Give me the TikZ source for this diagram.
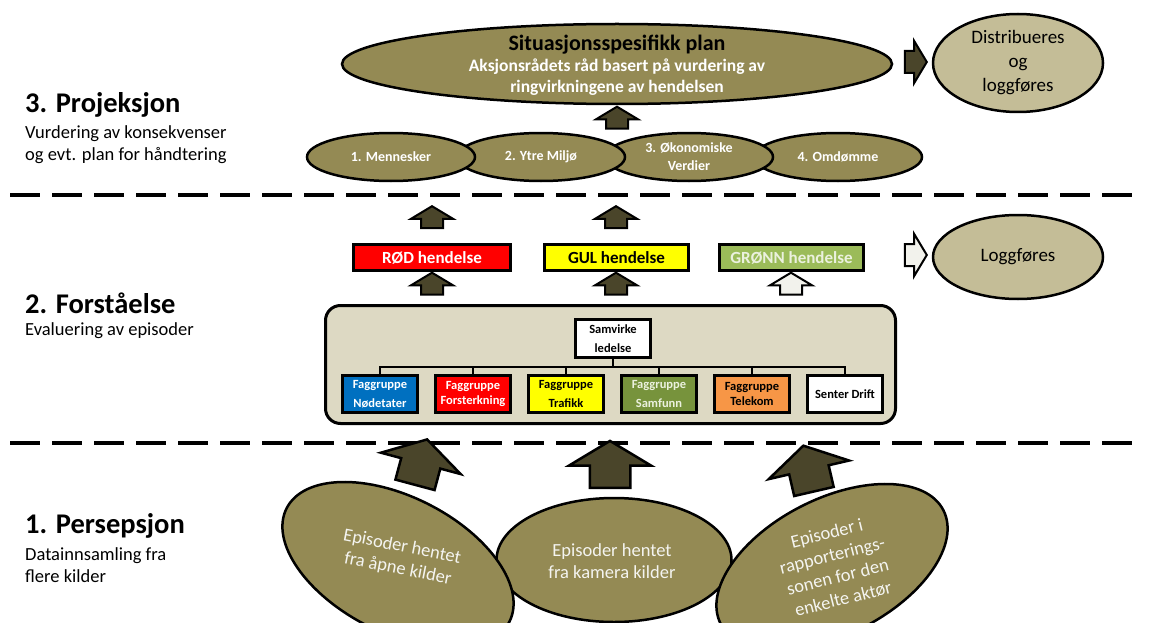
\documentclass[tikz,border=0pt]{standalone}
\usepackage{fontspec}
\setmainfont{Carlito}
\usetikzlibrary{positioning,shapes.geometric,shapes.arrows}

\definecolor{olivefill}{RGB}{148,138,84}
\definecolor{khakifill}{RGB}{196,189,151}
\definecolor{panelfill}{RGB}{221,217,195}
\definecolor{arrowdark}{RGB}{74,69,42}
\definecolor{arrowlight}{RGB}{242,242,236}
\definecolor{fgblue}{RGB}{0,112,192}
\definecolor{fgred}{RGB}{255,0,0}
\definecolor{fgyellow}{RGB}{255,255,0}
\definecolor{fggreen}{RGB}{119,147,60}
\definecolor{fgorange}{RGB}{247,150,70}
\definecolor{greenbox}{RGB}{155,187,89}
\definecolor{paletext}{RGB}{235,241,222}
\definecolor{offwhite}{RGB}{244,244,240}

\begin{document}
\begin{tikzpicture}[
  x=1pt, y=-1pt,
  phasetitle/.style={anchor=base west, inner sep=0pt, font=\fontsize{28.5}{32}\selectfont\bfseries},
  phasedesc/.style={anchor=base west, inner sep=0pt, align=left, font=\fontsize{18.5}{22}\selectfont},
  sepline/.style={line width=4pt, dash pattern=on 30pt off 12pt},
  olivell/.style={ellipse, draw, line width=2.5pt, fill=olivefill, inner sep=0pt},
  smallell/.style={olivell, minimum width=168pt, minimum height=48pt, text=white, align=center, font=\fontsize{14}{18}\selectfont\bfseries},
  endell/.style={ellipse, draw, line width=2.5pt, fill=khakifill, inner sep=0pt, minimum width=170pt, align=center, font=\fontsize{19}{24}\selectfont},
  eventbox/.style={draw, line width=3pt, minimum height=26pt, inner sep=0pt, font=\fontsize{17}{20}\selectfont\bfseries},
  groupbox/.style={draw, line width=3pt, minimum width=75pt, minimum height=37pt, inner sep=0pt, align=center},
  eptext/.style={align=center, inner sep=0pt, text=offwhite, font=\fontsize{18.5}{22.5}\selectfont},
  tree/.style={line width=2pt},
  smallarrow/.style={single arrow, draw, line width=2pt, fill=arrowdark, inner xsep=0pt, inner ysep=10pt, single arrow tip angle=118, minimum height=22pt, minimum width=40pt, single arrow head extend=10pt},
  bigarrow/.style={single arrow, draw, line width=2.5pt, fill=arrowdark, inner xsep=0pt, inner ysep=19pt, single arrow tip angle=118, minimum height=47pt, minimum width=80pt, single arrow head extend=21pt}
]
\useasboundingbox (0,0) rectangle (1150,623);

% Layer separators
\coordinate (s1l) at (10,195);
\coordinate (s1r) at (1142,195);
\coordinate (s2l) at (10,443);
\coordinate (s2r) at (1142,443);
\draw[sepline] (s1l) -- (s1r);
\draw[sepline] (s2l) -- (s2r);

% Phase labels
\node[phasetitle] (p3) at (25,113) {3. Projeksjon};
\node[phasedesc] (p3d) at (25,160) {Vurdering av konsekvenser\\og evt. plan for håndtering};
\node[phasetitle] (p2) at (25,313) {2. Forståelse};
\node[phasedesc] (p2d) at (25,335) {Evaluering av episoder};
\node[phasetitle] (p1) at (25,533) {1. Persepsjon};
\node[phasedesc] (p1d) at (25,582) {Datainnsamling fra\\flere kilder};

% 3. Projection
\node[smallell] (omd) at (838,157) {4. Omdømme};
\node[smallell] (oko) at (689,157) {3. Økonomiske\\Verdier};
\node[smallell] (ytre) at (541,157) {2. Ytre Miljø};
\node[smallell] (menn) at (391,157) {1. Mennesker};
\node[smallarrow, rotate=90] (aplan) at (617,121) {};

\node[olivell, minimum width=550pt, minimum height=80pt] (plan) at (617,64) {};
\node[align=center, inner sep=0pt, text=white, font=\fontsize{17.5}{21}\selectfont\bfseries] (plantxt) at (617,65)
  {{\color{black}\fontsize{22}{24}\selectfont Situasjonsspesifikk plan}\\Aksjonsrådets råd basert på vurdering av\\ringvirkningene av hendelsen};

\node[smallarrow] (adist) at (912.5,62) {};
\node[endell, minimum height=98pt] (dist) at (1018,63) {Distribueres\\og\\loggføres};

% 2. Understanding
\node[smallarrow, rotate=90] (arod) at (432,220.5) {};
\node[smallarrow, rotate=90] (agul) at (616,220.5) {};

\node[eventbox, fill=fgred, text=white, minimum width=157pt] (rod) at (432,257.5) {RØD hendelse};
\node[eventbox, fill=fgyellow, minimum width=144pt] (gul) at (616.5,257.5) {GUL hendelse};
\node[eventbox, fill=greenbox, text=paletext, minimum width=144pt] (gronn) at (791.5,257.5) {GRØNN hendelse};

\node[smallarrow, fill=arrowlight] (alogg) at (912.5,255) {};
\node[endell, minimum height=84pt] (logg) at (1018,257) {Loggføres};

\node[smallarrow, rotate=90] (brod) at (432,287) {};
\node[smallarrow, rotate=90] (bgul) at (616,287) {};
\node[smallarrow, rotate=90, fill=arrowlight] (bgronn) at (791,287) {};

\node[draw, line width=3pt, rounded corners=15pt, fill=panelfill, minimum width=570pt, minimum height=118pt] (panel) at (610.5,364.5) {};

\node[groupbox, fill=white, minimum height=38pt, font=\fontsize{12.5}{19}\selectfont\bfseries] (sam) at (613,338.5) {Samvirke\\ledelse};

\node[groupbox, fill=fgblue, text=white, font=\fontsize{12.5}{19}\selectfont\bfseries] (fg1) at (380,394) {Faggruppe\\Nødetater};
\node[groupbox, fill=fgred, text=white, font=\fontsize{12.5}{15}\selectfont\bfseries] (fg2) at (473,394) {Faggruppe\\Forsterkning};
\node[groupbox, fill=fgyellow, font=\fontsize{12.5}{19}\selectfont\bfseries] (fg3) at (566,394) {Faggruppe\\Trafikk};
\node[groupbox, fill=fggreen, text=paletext, font=\fontsize{12.5}{19}\selectfont\bfseries] (fg4) at (659,394) {Faggruppe\\Samfunn};
\node[groupbox, fill=fgorange, font=\fontsize{12.5}{15}\selectfont\bfseries] (fg5) at (752,394) {Faggruppe\\Telekom};
\node[groupbox, fill=white, font=\fontsize{12.5}{15}\selectfont\bfseries] (fg6) at (845,394) {Senter Drift};

\draw[tree] (sam.south) -- ++(0,8) -| (fg1.north);
\draw[tree] (sam.south) -- ++(0,8) -| (fg2.north);
\draw[tree] (sam.south) -- ++(0,8) -| (fg3.north);
\draw[tree] (sam.south) -- ++(0,8) -| (fg4.north);
\draw[tree] (sam.south) -- ++(0,8) -| (fg5.north);
\draw[tree] (sam.south) -- ++(0,8) -| (fg6.north);

% 1. Perception
\node[olivell, minimum width=235pt, minimum height=124pt] (kam) at (614,560) {};
\node[olivell, minimum width=250pt, minimum height=136pt, rotate=-27] (apne) at (398,565) {};
\node[olivell, minimum width=250pt, minimum height=136pt, rotate=27] (rapp) at (832,567) {};

\node[eptext, rotate=-11] (apnetxt) at (400,558) {Episoder hentet\\fra åpne kilder};
\node[eptext] (kamtxt) at (612,561) {Episoder hentet\\fra kamera kilder};
\node[eptext, rotate=14] (rapptxt) at (835,566) {Episoder i\\rapporterings-\\sonen for den\\enkelte aktør};

\node[bigarrow, rotate=75] (uapne) at (419.5,468) {};
\node[bigarrow, rotate=90] (ukam) at (610,470.5) {};
\node[bigarrow, rotate=103] (urapp) at (810,474.5) {};

\end{tikzpicture}
\end{document}
